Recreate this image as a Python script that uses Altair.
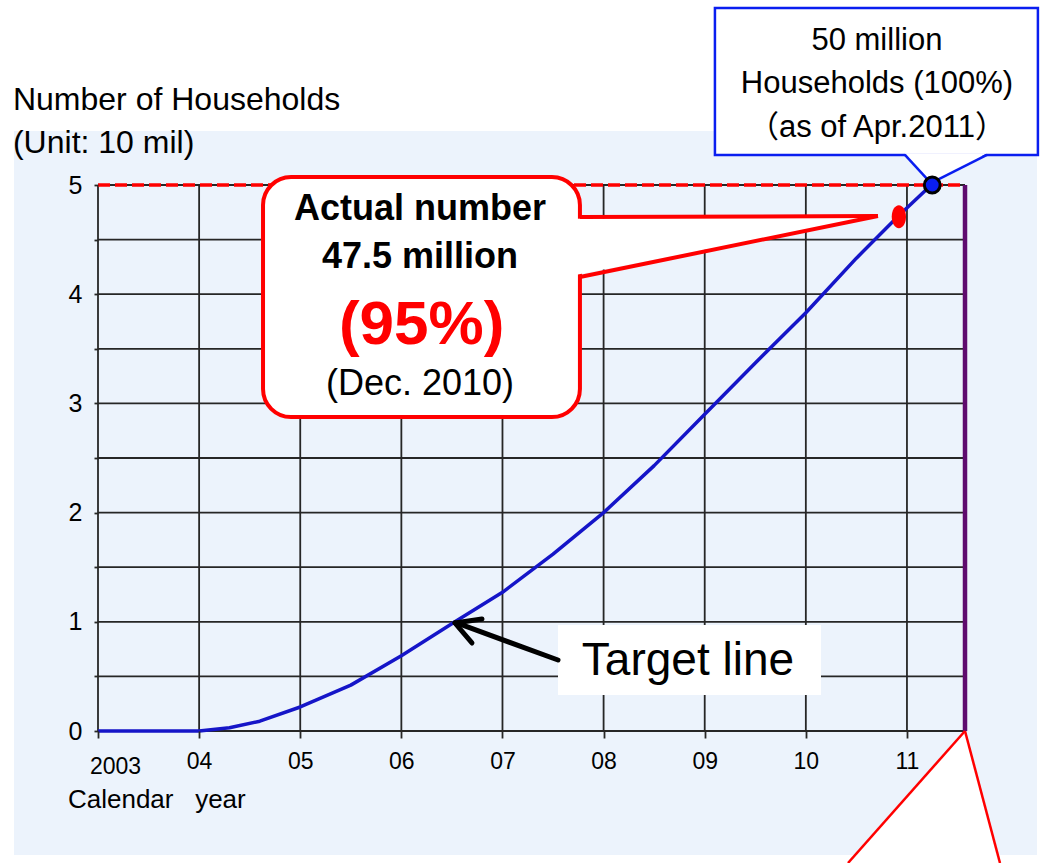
import altair as alt
import pandas as pd

# ---------------- data (unit: 10 million households) ----------------
curve_years = [2003.0, 2004.0, 2004.3, 2004.6, 2005.0, 2005.5, 2006.0, 2006.53, 2007.0,
               2007.5, 2008.0, 2008.5, 2009.0, 2009.5, 2010.0, 2010.5, 2010.92, 2011.24]
curve_values = [0, 0, 0.03, 0.09, 0.22, 0.42, 0.69, 1.0, 1.27,
                1.62, 2.0, 2.43, 2.9, 3.37, 3.83, 4.33, 4.72, 5.0]

actual_year = [2010.92]     # Dec. 2010
actual_value = [4.71]       # 47.5 million
goal_year = [2011.25]       # Apr. 2011
goal_value = [5.0]          # 50 million
analog_end_year = 2011.574  # end of analog broadcasting (purple line)
goal_level = 5

year_ticks = [2003, 2004, 2005, 2006, 2007, 2008, 2009, 2010, 2011]
value_ticks = [0, 0.5, 1, 1.5, 2, 2.5, 3, 3.5, 4, 4.5, 5]

FONT = "Liberation Sans, Arial, 'Noto Sans CJK JP', sans-serif"
GRID = "#262626"
RED = "#FF0000"
BLUE = "#0A1EF0"

xscale = alt.Scale(domain=[2003, analog_end_year], nice=False, zero=False)
yscale = alt.Scale(domain=[0, 5], nice=False, zero=False)

xaxis = alt.Axis(
    values=year_ticks,
    labelExpr="datum.value == 2003 ? '2003' : slice(format(datum.value, 'd'), 2)",
    grid=False, domain=False, tickSize=7, tickColor=GRID, tickWidth=1.8,
    labelFont=FONT, labelFontSize=23, labelColor="black",
    labelPadding={"condition": {"test": "datum.value == 2003", "value": 17}, "value": 12},
    labelOffset={"condition": {"test": "datum.value == 2003", "value": 17}, "value": 0},
    labelFlush=False, labelOverlap=False, zindex=1,
)
yaxis = alt.Axis(
    values=value_ticks,
    labelExpr="datum.value % 1 == 0 ? format(datum.value, 'd') : ''",
    grid=False, domain=False, tickSize=4, tickColor=GRID, tickWidth=1.8,
    labelFont=FONT, labelFontSize=25, labelColor="black", labelPadding=12,
    labelFlush=False, labelOverlap=False, zindex=1,
)


def X(f="x"):
    return alt.X(f"{f}:Q", scale=xscale, axis=xaxis, title=None)


def Y(f="y"):
    return alt.Y(f"{f}:Q", scale=yscale, axis=yaxis, title=None)


def rect(df, **kw):
    return alt.Chart(df).mark_rect(**kw).encode(x=X(), x2="x2:Q", y=Y(), y2="y2:Q")


def segs(df, **kw):
    return alt.Chart(df).mark_rule(**kw).encode(x=X(), x2="x2:Q", y=Y(), y2="y2:Q")


def area(df, **kw):
    return alt.Chart(df).mark_area(**kw).encode(x=X(), y=Y(), y2="y2:Q")


def text(df, **kw):
    return alt.Chart(df).mark_text(font=FONT, **kw).encode(x=X(), y=Y(), text="text:N")


# background panel
bg = rect(pd.DataFrame({"x": [2002.169], "x2": [2012.286], "y": [-1.136], "y2": [5.495]}),
          color="#ECF3FC")

# grid
hgrid = segs(pd.DataFrame({"x": [2003] * len(value_ticks), "x2": [analog_end_year] * len(value_ticks),
                           "y": value_ticks, "y2": value_ticks}), color=GRID, strokeWidth=1.8)
vgrid = segs(pd.DataFrame({"x": year_ticks, "x2": year_ticks,
                           "y": [0] * len(year_ticks), "y2": [5] * len(year_ticks)}),
             color=GRID, strokeWidth=1.8)

purple = segs(pd.DataFrame({"x": [analog_end_year], "x2": [analog_end_year], "y": [0], "y2": [5]}),
              color="#5E0A6E", strokeWidth=4.5)
goal_line = segs(pd.DataFrame({"x": [2003], "x2": [analog_end_year], "y": [goal_level], "y2": [goal_level]}),
                 color=RED, strokeWidth=3.5, strokeDash=[12, 5])

curve = alt.Chart(pd.DataFrame({"x": curve_years, "y": curve_values})).mark_line(
    color="#1515C8", strokeWidth=3.5, strokeJoin="round").encode(x=X(), y=Y())

# red callout
red_box = rect(pd.DataFrame({"x": [2004.632], "x2": [2007.766], "y": [2.875], "y2": [5.073]}),
               fill="white", stroke=RED, strokeWidth=4, cornerRadius=28)
red_ptr_fill = area(pd.DataFrame({"x": [2007.72, 2010.713], "y": [4.69, 4.716], "y2": [4.175, 4.716]}),
                    color="white", opacity=1)
red_ptr = segs(pd.DataFrame({"x": [2007.766, 2007.766], "x2": [2010.713, 2010.713],
                             "y": [4.707, 4.158], "y2": [4.716, 4.716]}),
               color=RED, strokeWidth=4)

# blue callout
blue_box = rect(pd.DataFrame({"x": [2009.101], "x2": [2012.295], "y": [5.275], "y2": [6.621]}),
                fill="white", stroke=BLUE, strokeWidth=2.5)
blue_ptr_fill = area(pd.DataFrame({"x": [2010.98, 2011.237, 2011.791], "y": [5.29, 5.29, 5.29],
                                   "y2": [5.29, 5.018, 5.29]}), color="white", opacity=1)
blue_ptr = segs(pd.DataFrame({"x": [2010.98, 2011.791], "x2": [2011.237, 2011.237],
                              "y": [5.275, 5.275], "y2": [5.018, 5.018]}),
                color=BLUE, strokeWidth=2.5)

# points
red_dot = alt.Chart(pd.DataFrame({"x": actual_year, "y": actual_value})).mark_point(
    shape="M0,-1A0.62,1 0 1,1 0,1A0.62,1 0 1,1 0,-1Z", filled=True, fill=RED,
    fillOpacity=1, size=529).encode(x=X(), y=Y())
blue_dot = alt.Chart(pd.DataFrame({"x": goal_year, "y": goal_value})).mark_point(
    shape="circle", filled=True, fill=BLUE, stroke="black", strokeWidth=3,
    fillOpacity=1, strokeOpacity=1, size=250).encode(x=X(), y=Y())

# target label + arrow
tgt_box = rect(pd.DataFrame({"x": [2007.549], "x2": [2010.15], "y": [0.33], "y2": [0.971]}),
               fill="white")
arrow = segs(pd.DataFrame({"x": [2007.549, 2006.53, 2006.53], "x2": [2006.56, 2006.797, 2006.698],
                           "y": [0.65, 0.989, 0.989], "y2": [0.985, 1.026, 0.806]}),
             color="black", strokeWidth=5, strokeCap="round")

# bottom-right callout stub
stub_fill = area(pd.DataFrame({"x": [2010.417, analog_end_year, 2011.92], "y": [-1.209, 0, -1.209],
                               "y2": [-1.209, -1.209, -1.209]}), color="white", opacity=1)
stub = segs(pd.DataFrame({"x": [analog_end_year, analog_end_year], "x2": [2010.417, 2011.92],
                          "y": [0, 0], "y2": [-1.209, -1.209]}), color=RED, strokeWidth=2.5)

# texts
t_title = text(pd.DataFrame({"x": [2002.159, 2002.159], "y": [5.687, 5.293],
                             "text": ["Number of Households", "(Unit: 10 mil)"]}),
               align="left", baseline="alphabetic", fontSize=32, color="black")
t_xlab = text(pd.DataFrame({"x": [2002.703], "y": [-0.705], "text": ["Calendar\u00a0\u00a0\u00a0year"]}),
              align="left", baseline="alphabetic", fontSize=26, color="black")
t_red_bold = text(pd.DataFrame({"x": [2006.184, 2006.184], "y": [4.679, 4.240],
                                "text": ["Actual number", "47.5 million"]}),
                  align="center", baseline="alphabetic", fontSize=36, fontWeight="bold", color="black")
t_pct = text(pd.DataFrame({"x": [2006.2], "y": [3.544], "text": ["(95%)"]}),
             align="center", baseline="alphabetic", fontSize=62, fontWeight="bold", color=RED)
t_date = text(pd.DataFrame({"x": [2006.184], "y": [3.077], "text": ["(Dec. 2010)"]}),
              align="center", baseline="alphabetic", fontSize=36, color="black")
t_blue = text(pd.DataFrame({"x": [2010.703] * 3, "y": [6.236, 5.842, 5.44],
                            "text": ["50 million", "Households (100%)", "（as of Apr.2011）"]}),
              align="center", baseline="alphabetic", fontSize=31, color="black")
t_target = text(pd.DataFrame({"x": [2008.834], "y": [0.513], "text": ["Target line"]}),
                align="center", baseline="alphabetic", fontSize=46, color="black")

chart = alt.layer(
    bg, hgrid, vgrid, purple, goal_line, curve,
    red_box, red_ptr_fill, red_ptr,
    blue_box, blue_ptr_fill, blue_ptr,
    red_dot, blue_dot,
    tgt_box, arrow, stub_fill, stub,
    t_title, t_xlab, t_red_bold, t_pct, t_date, t_blue, t_target,
).properties(
    width=867, height=546,
    padding={"left": 98, "top": 185, "right": 75, "bottom": 132},
    autosize=alt.AutoSizeParams(type="none"),
    background="white",
).configure_view(stroke=None)

chart.save("out.html", embed_options={"renderer": "svg", "actions": False})
